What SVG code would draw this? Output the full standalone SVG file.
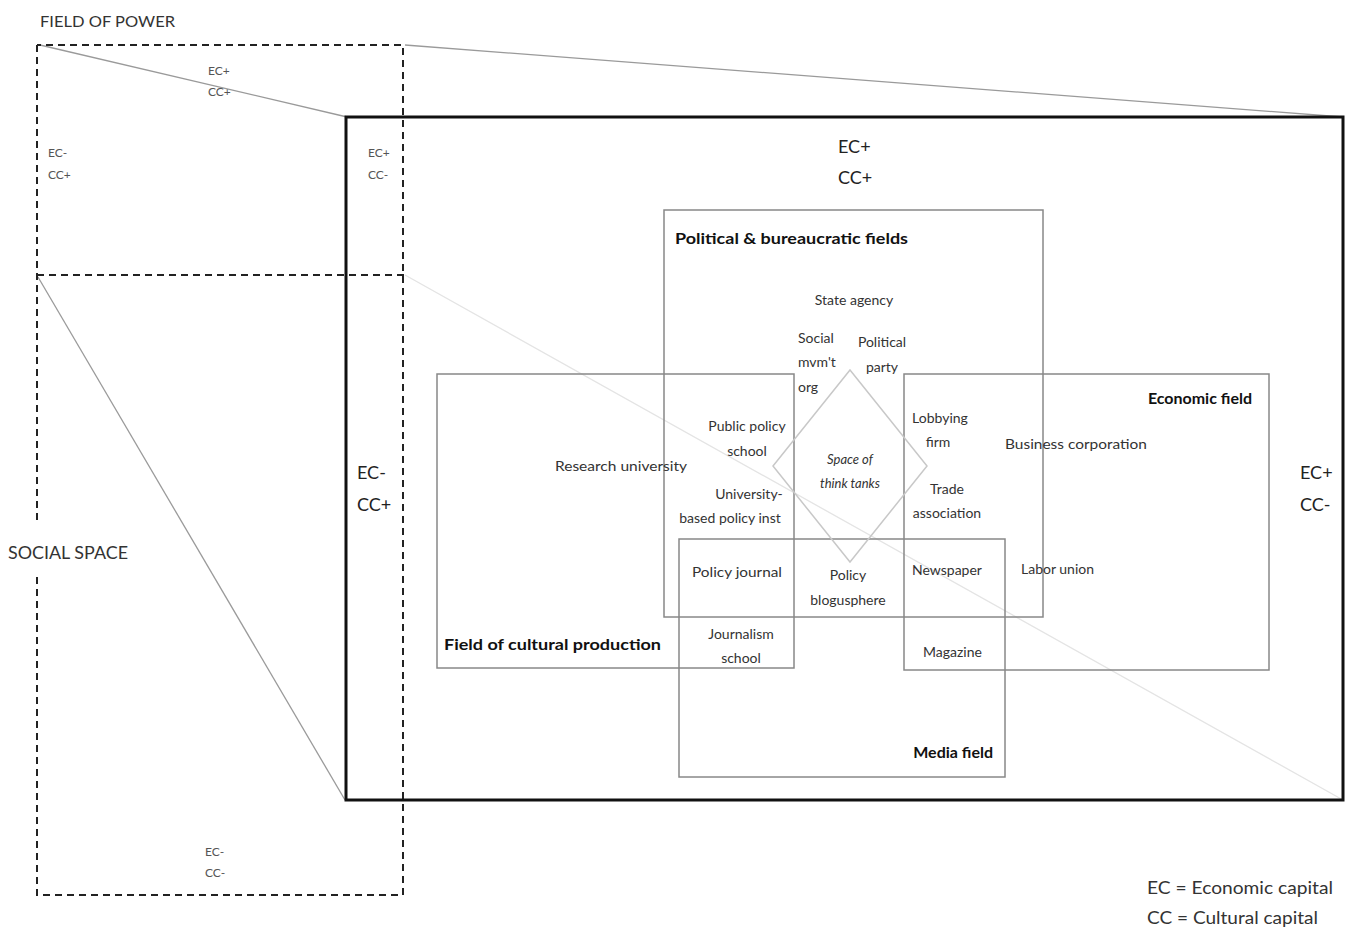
<svg xmlns="http://www.w3.org/2000/svg" width="1346" height="934" viewBox="0 0 1346 934">
<style>
.t{font-family:Lato,"Open Sans","Liberation Sans",sans-serif;fill:#333;font-size:14px}
.s{font-size:12px;fill:#555}
.m{font-size:18px;fill:#222}
.b{font-weight:bold;font-size:16px;fill:#111}
.i{font-style:italic}
.c{text-anchor:middle}
.r{text-anchor:end}
.dash{fill:none;stroke:#222;stroke-width:2;stroke-dasharray:7 5}
.box{fill:none;stroke:#888;stroke-width:1.5}
.proj{stroke:#9a9a9a;stroke-width:1.3;fill:none}
</style>
<rect width="1346" height="934" fill="#fff"/>

<g id="connectors">
<line class="proj" x1="40" y1="45" x2="347" y2="117"/>
<line class="proj" x1="405" y1="45" x2="1343" y2="117"/>
<line class="proj" x1="38" y1="277" x2="345" y2="800"/>
<line class="proj" x1="405" y1="275" x2="1343" y2="800" style="stroke:#e4e4e4"/>
</g>

<g id="social-space">
<path class="dash" d="M37 520 V45 M37 577 V895 H403 V45 H37 M37 275 H405"/>
<text class="t" x="8" y="559" style="font-size:17px" textLength="120" lengthAdjust="spacingAndGlyphs">SOCIAL SPACE</text>
<text class="t s" x="205" y="856">EC-</text>
<text class="t s" x="205" y="877">CC-</text>
</g>

<g id="field-of-power">
<text class="t" x="40" y="27" style="font-size:15px" textLength="135" lengthAdjust="spacingAndGlyphs">FIELD OF POWER</text>
<text class="t s" x="208" y="75">EC+</text>
<text class="t s" x="208" y="96">CC+</text>
<text class="t s" x="48" y="157">EC-</text>
<text class="t s" x="48" y="179">CC+</text>
<text class="t s" x="368" y="157">EC+</text>
<text class="t s" x="368" y="179">CC-</text>
</g>

<g id="main-box">
<rect x="346" y="117" width="997" height="683" fill="none" stroke="#111" stroke-width="3"/>
<text class="t m" x="838" y="153">EC+</text>
<text class="t m" x="838" y="184">CC+</text>
<text class="t m" x="357" y="479">EC-</text>
<text class="t m" x="357" y="511">CC+</text>
<text class="t m" x="1300" y="479">EC+</text>
<text class="t m" x="1300" y="511">CC-</text>
</g>

<g id="political-bureaucratic-fields">
<rect class="box" x="664" y="210" width="379" height="407"/>
<text class="t b" x="675" y="244" textLength="233" lengthAdjust="spacingAndGlyphs">Political &amp; bureaucratic fields</text>
<text class="t c" x="854" y="305">State agency</text>
<text class="t" x="798" y="343">Social</text>
<text class="t" x="798" y="367">mvm't</text>
<text class="t" x="798" y="392">org</text>
<text class="t c" x="882" y="347">Political</text>
<text class="t c" x="882" y="372">party</text>
</g>

<g id="field-of-cultural-production">
<rect class="box" x="437" y="374" width="357" height="294"/>
<text class="t b" x="444" y="650" textLength="217" lengthAdjust="spacingAndGlyphs">Field of cultural production</text>
<text class="t" x="555" y="471" textLength="132" lengthAdjust="spacingAndGlyphs">Research university</text>
<text class="t c" x="747" y="431">Public policy</text>
<text class="t c" x="747" y="456">school</text>
<text class="t c" x="749" y="499">University-</text>
<text class="t c" x="730" y="523">based policy inst</text>
<text class="t c" x="741" y="639">Journalism</text>
<text class="t c" x="741" y="663">school</text>
</g>

<g id="economic-field">
<rect class="box" x="904" y="374" width="365" height="296"/>
<text class="t b r" x="1252" y="404">Economic field</text>
<text class="t c" x="940" y="423">Lobbying</text>
<text class="t c" x="938" y="447">firm</text>
<text class="t" x="1005" y="449" textLength="142" lengthAdjust="spacingAndGlyphs">Business corporation</text>
<text class="t c" x="947" y="494">Trade</text>
<text class="t c" x="947" y="518">association</text>
<text class="t" x="1021" y="574">Labor union</text>
</g>

<g id="media-field">
<rect class="box" x="679" y="539" width="326" height="238"/>
<text class="t b r" x="993" y="758">Media field</text>
<text class="t" x="692" y="577" textLength="90" lengthAdjust="spacingAndGlyphs">Policy journal</text>
<text class="t c" x="848" y="580">Policy</text>
<text class="t c" x="848" y="605">blogusphere</text>
<text class="t" x="912" y="575">Newspaper</text>
<text class="t" x="923" y="657">Magazine</text>
</g>

<g id="space-of-think-tanks">
<polygon points="850,370 927,466 850,562 773,466" fill="none" stroke="#c8c8c8" stroke-width="1.5"/>
<text class="t c i" x="850" y="464" style="font-size:13px">Space of</text>
<text class="t c i" x="850" y="488" style="font-size:13px">think tanks</text>
</g>

<g id="legend">
<text class="t" x="1147" y="894" style="font-size:17px" textLength="186" lengthAdjust="spacingAndGlyphs">EC = Economic capital</text>
<text class="t" x="1147" y="924" style="font-size:17px" textLength="171" lengthAdjust="spacingAndGlyphs">CC = Cultural capital</text>
</g>
</svg>
